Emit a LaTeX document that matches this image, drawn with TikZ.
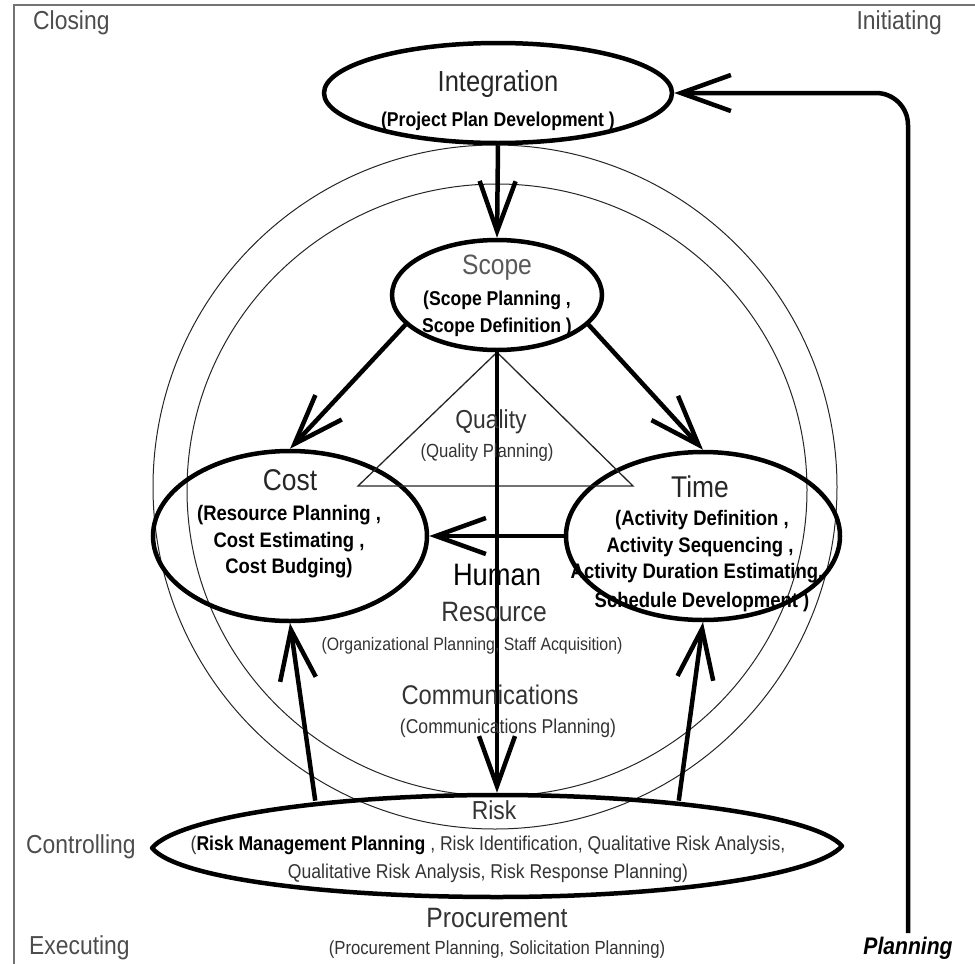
\documentclass[tikz,border=0pt]{standalone}
\usepackage{fontspec}
\setmainfont{Liberation Sans}[FakeStretch=0.88]
\usetikzlibrary{arrows.meta,shapes.geometric}
\newcommand{\fsz}[1]{\fontsize{#1}{#1}\selectfont}
\begin{document}
\begin{tikzpicture}[x=1pt,y=-1pt,
  ell/.style={draw, ellipse, line width=4.5pt, inner sep=0pt},
  conn/.style={line width=4.5pt, -{Straight Barb[length=50pt,width=36pt]}},
  thinc/.style={draw=black!85, line width=1pt},
  tri/.style={draw=black!85, line width=1.3pt},
  lbl/.style={inner sep=0pt, text=black!80},
  bld/.style={inner sep=0pt, text=black, font=\bfseries\fsz{#1}},
  corner/.style={inner sep=0pt, text=black!70, font=\fsz{26}}
]
\useasboundingbox (0,0) rectangle (975,964);
% frame
\draw[black!55, line width=2pt] (14,964) -- (14,5) -- (975,5);
% process-group circles
\draw[thinc] (495,487) ellipse[x radius=342pt, y radius=342pt];
\draw[thinc] (497,490) ellipse[x radius=310pt, y radius=306pt];

% knowledge-area ellipses
\node[ell, minimum width=348pt, minimum height=100pt] (integ) at (498,93) {};
\node[ell, minimum width=210pt, minimum height=110pt] (scope) at (497,295) {};
\node[ell, minimum width=274pt, minimum height=170pt] (cost) at (290,536) {};
\node[ell, minimum width=274pt, minimum height=168pt] (time) at (703,536) {};
\node[ell, draw=none, minimum width=688pt, minimum height=102pt] (risk) at (497,846) {};
% pointed outline of the Risk area
\draw[line width=4.5pt, line join=round]
  (152,848) .. controls (178,817) and (330,795) .. (497,795)
            .. controls (664,795) and (816,816) .. (842,846)
            .. controls (816,876) and (664,897) .. (497,897)
            .. controls (330,897) and (178,879) .. cycle;

% quality triangle
\coordinate (qL) at (358,486);
\coordinate (qR) at (633,486);
\draw[tri] (scope.south) -- (qL) -- (qR) -- cycle;

% connectors
\coordinate (plan) at (908,933);
\draw[conn] (integ.south) -- (scope.north);
\draw[conn] (scope.198) -- (cost.north);
\draw[conn] (scope.-18) -- (time.north);
\draw[conn] (scope.south) -- (risk.north);
\draw[conn] (time.west) -- (cost.east);
\draw[conn] (risk.166) -- (cost.south);
\draw[conn] (risk.14) -- (time.south);
\draw[conn, rounded corners=32pt] (plan) |- (integ.east);

% corner labels
\node[corner, anchor=west] (closing) at (33,23) {Closing};
\node[corner, anchor=east] (initiating) at (942,23) {Initiating};
\node[corner, anchor=west] (controlling) at (26,847) {Controlling};
\node[corner, anchor=west] (executing) at (29,948) {Executing};
\node[inner sep=0pt, font=\fsz{24}\bfseries\itshape] (planning) at (908,948) {Planning};

% Integration
\node[lbl, text=black!85, font=\fsz{29}] (tInteg) at (498,84) {Integration};
\node[bld=20] (tInteg2) at (498,121) {(Project Plan Development )};
% Scope
\node[lbl, text=black!65, font=\fsz{28}] (tScope) at (497,268) {Scope};
\node[bld=20] (tScope2) at (497,300) {(Scope Planning ,};
\node[bld=20] (tScope3) at (497,327) {Scope Definition )};
% Quality
\node[lbl, font=\fsz{26}] (tQual) at (491,422) {Quality};
\node[lbl, font=\fsz{19}] (tQual2) at (487,453) {(Quality Planning)};
% Cost
\node[lbl, text=black!85, font=\fsz{30}] (tCost) at (290,480) {Cost};
\node[bld=21] (tCost2) at (289,515) {(Resource Planning ,};
\node[bld=21] (tCost3) at (289,542) {Cost Estimating ,};
\node[bld=21] (tCost4) at (289,568) {Cost Budging)};
% Time
\node[lbl, text=black!85, font=\fsz{30}] (tTime) at (700,487) {Time};
\node[bld=21] (tTime2) at (702,520) {(Activity Definition ,};
\node[bld=21] (tTime3) at (700,547) {Activity Sequencing ,};
\node[bld=21] (tTime4) at (697,573) {Activity Duration Estimating,};
\node[bld=21] (tTime5) at (702,602) {Schedule Development )};
% Human resource
\node[lbl, text=black, font=\fsz{31}] (tHuman) at (497,575) {Human};
\node[lbl, font=\fsz{28}] (tRes) at (494,612) {Resource};
\node[lbl, font=\fsz{18}] (tRes2) at (472,646) {(Organizational Planning, Staff Acquisition)};
% Communications
\node[lbl, font=\fsz{27}] (tComm) at (490,695) {Communications};
\node[lbl, font=\fsz{20}] (tComm2) at (508,728) {(Communications Planning)};
% Risk
\node[lbl, font=\fsz{26}] (tRisk) at (494,810) {Risk};
\node[lbl, font=\fsz{20}] (tRisk2) at (488,845) {(\textbf{\color{black}Risk Management Planning} , Risk Identification, Qualitative Risk Analysis,};
\node[lbl, font=\fsz{20}] (tRisk3) at (488,873) {Qualitative Risk Analysis, Risk Response Planning)};
% Procurement
\node[lbl, font=\fsz{28}] (tProc) at (497,918) {Procurement};
\node[lbl, font=\fsz{19}] (tProc2) at (497,950) {(Procurement Planning, Solicitation Planning)};
\end{tikzpicture}
\end{document}
